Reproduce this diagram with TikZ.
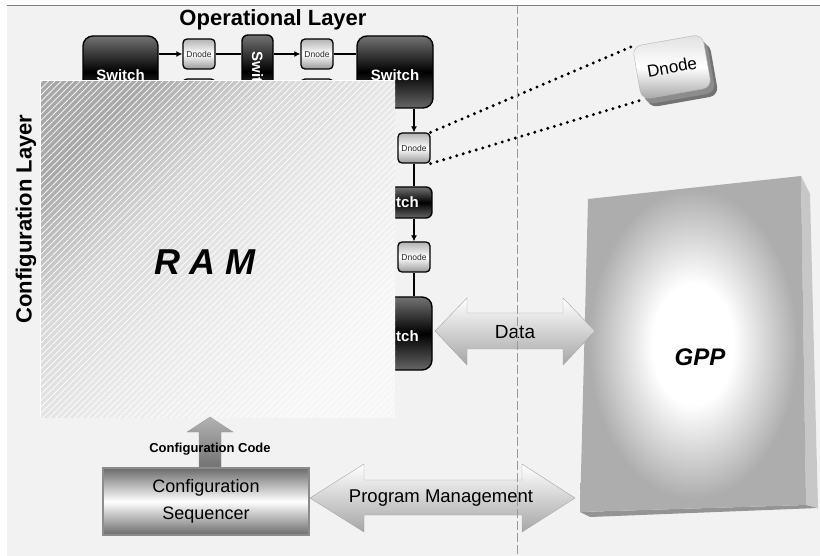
\documentclass[tikz,border=0pt]{standalone}
\usepackage{fontspec}
\setmainfont{Liberation Sans}
\usetikzlibrary{arrows.meta,patterns,patterns.meta,calc}
\definecolor{bgc}{HTML}{F2F2F2}
\pgfdeclareradialshading{gppshade}{\pgfpoint{0bp}{0bp}}{color(0bp)=(white); color(9bp)=(white); color(23bp)=(black!32); color(50bp)=(black!32)}
\pgfdeclareverticalshading{ramshade}{100bp}{color(0bp)=(black!3); color(25bp)=(black!3); color(45bp)=(black!8); color(60bp)=(black!15); color(75bp)=(black!34); color(100bp)=(black!34)}
\begin{document}
\begin{tikzpicture}[x=1pt,y=-1pt,
  switchbox/.style={draw=black, line width=1.4pt, rounded corners=10pt, top color=black!55, bottom color=black!60, middle color=black, inner sep=0pt},
  swtext/.style={text=white, font=\bfseries\fontsize{15}{15}\selectfont},
  dnodebox/.style={draw=black, line width=1.3pt, rounded corners=4pt, top color=black!30, bottom color=black!40, middle color=white, minimum width=32pt, minimum height=30pt, inner sep=0pt, font=\fontsize{8.5}{9}\selectfont, text=black!85},
  conn/.style={line width=1.1pt, black},
  arr/.style={conn, -{Latex[length=6pt,width=6pt]}},
  blockarrow/.style={top color=white, bottom color=black!35, draw=black!35, line width=0.4pt},
  dotline/.style={line width=3.3pt, dash pattern=on 0pt off 6.8pt, line cap=round}
]
\useasboundingbox (0,0) rectangle (820,556);
% background
\fill[bgc] (7,5) rectangle (820,556);
\draw[black!50, line width=0.8pt] (7,5) -- (820,5);

% operational layer nodes
\node[switchbox, minimum width=75pt, minimum height=72pt] (sw1) at (120.5,72) {};
\node[switchbox, rounded corners=6pt, minimum width=31pt, minimum height=73pt] (sw2) at (257.5,71.5) {};
\node[switchbox, minimum width=76pt, minimum height=72pt] (sw3) at (395,72) {};
\node[switchbox, rounded corners=6pt, minimum width=75pt, minimum height=31pt] (sw4) at (394.5,202.5) {};
\node[switchbox, minimum width=75pt, minimum height=73pt] (sw5) at (394.5,333.5) {};
\node[swtext] at ([yshift=-3pt]sw1.center) {Switch};
\node[swtext, rotate=-90] at ([yshift=-4pt]sw2.center) {Switch};
\node[swtext] at ([yshift=-3pt]sw3.center) {Switch};
\node[swtext] at (sw4.center) {Switch};
\node[swtext] at ([yshift=-3pt]sw5.center) {Switch};

\node[dnodebox] (dn1) at (199,54) {Dnode};
\node[dnodebox] (dn2) at (317,54) {Dnode};
\node[dnodebox] (dn1b) at (199,94) {Dnode};
\node[dnodebox] (dn2b) at (317,94) {Dnode};
\node[dnodebox] (dn3) at (414,148) {Dnode};
\node[dnodebox] (dn4) at (414,257) {Dnode};

\draw[arr] (sw1.east |- dn1) -- (dn1.west);
\draw[conn] (dn1.east) -- (sw2.west |- dn1);
\draw[arr] (sw2.east |- dn2) -- (dn2.west);
\draw[conn] (dn2.east) -- (sw3.west |- dn2);
\draw[arr] (dn3 |- sw3.south) -- (dn3.north);
\draw[conn] (dn3.south) -- (dn3 |- sw4.north);
\draw[arr] (dn4 |- sw4.south) -- (dn4.north);
\draw[conn] (dn4.south) -- (dn4 |- sw5.north);

% RAM
\node[minimum width=354pt, minimum height=336pt, inner sep=0pt, shading=ramshade, shading angle=45] (ram) at (218,249) {};
\fill[pattern={Lines[angle=45,distance=4.5pt,line width=0.7pt]}, pattern color=white, fill opacity=0.55] (ram.north west) rectangle (ram.south east);
\draw[white, line width=0.8pt] (ram.south west) -- (ram.north west) -- (ram.north east);
\node[font=\bfseries\itshape\fontsize{36}{36}\selectfont] (ramtext) at (205,262) {R A M};

% labels
\node[font=\bfseries\fontsize{22}{22}\selectfont] (oplab) at (273,20) {Operational Layer};
\node[font=\bfseries\fontsize{22}{22}\selectfont, rotate=90] (cflab) at (26,219) {Configuration Layer};

% configuration sequencer
\node[draw=black!45, line width=1.5pt, minimum width=206pt, minimum height=67pt, top color=black!58, bottom color=black!58, middle color=white, align=center, font=\fontsize{18}{27}\selectfont, inner sep=0pt] (seq) at (206,501.5) {Configuration\\Sequencer};

% configuration code arrow
\shade[top color=black!30, bottom color=black!55, draw=black!40, line width=0.3pt]
  (210,417) -- (233,432) -- (221,432) -- (221,467) -- (199,467) -- (199,432) -- (187,432) -- cycle;
\node[font=\bfseries\fontsize{13}{13}\selectfont] (cc) at (210,449) {Configuration Code};

% GPP
\fill[black!42] (580,512) -- (806,505) -- (818,508) -- (590,517) -- cycle;
\fill[black!22] (801,176) -- (810,194) -- (818,508) -- (806,505) -- cycle;
\path[shading=gppshade] (588,199) -- (801,176) -- (806,505) -- (580,512) -- cycle;
\node (gpp) at (693,345) {};
\node[font=\bfseries\itshape\fontsize{24}{24}\selectfont] (gpptext) at (700,357) {GPP};

% block arrows
\shade[blockarrow] (435,331) -- (467,298) -- (467,313) -- (563,313) -- (563,298) -- (595,331) -- (563,365) -- (563,349) -- (467,349) -- (467,365) -- cycle;
\node[font=\fontsize{19}{19}\selectfont] (data) at (515,332) {Data};
\shade[blockarrow] (310,498) -- (364,464) -- (364,480) -- (522,480) -- (522,464) -- (575,498) -- (522,532) -- (522,515) -- (364,515) -- (364,532) -- cycle;
\node[font=\fontsize{18.5}{19}\selectfont] (pm) at (441,498) {Program Management};

% big Dnode
\node[rounded corners=9pt, minimum width=71pt, minimum height=54pt, rotate=10, fill=black!55] (bigdshadow) at (679,75) {};
\node[rounded corners=9pt, minimum width=71pt, minimum height=54pt, rotate=10, fill=black!45] at (676,72) {};
\node[rounded corners=9pt, minimum width=71pt, minimum height=54pt, rotate=10, draw=black!30, line width=0.4pt, top color=black!12, bottom color=black!35, middle color=white, font=\fontsize{17}{17}\selectfont] (bigd) at (672,67) {Dnode};

% dotted links
\draw[dotline] (dn3.north east) -- (bigd.north west);
\draw[dotline] (dn3.south east) -- (bigd.south west);

% dashed separator
\draw[black!40, line width=0.9pt, dash pattern=on 9pt off 3pt] (517,5) -- (517,556);
\end{tikzpicture}
\end{document}
